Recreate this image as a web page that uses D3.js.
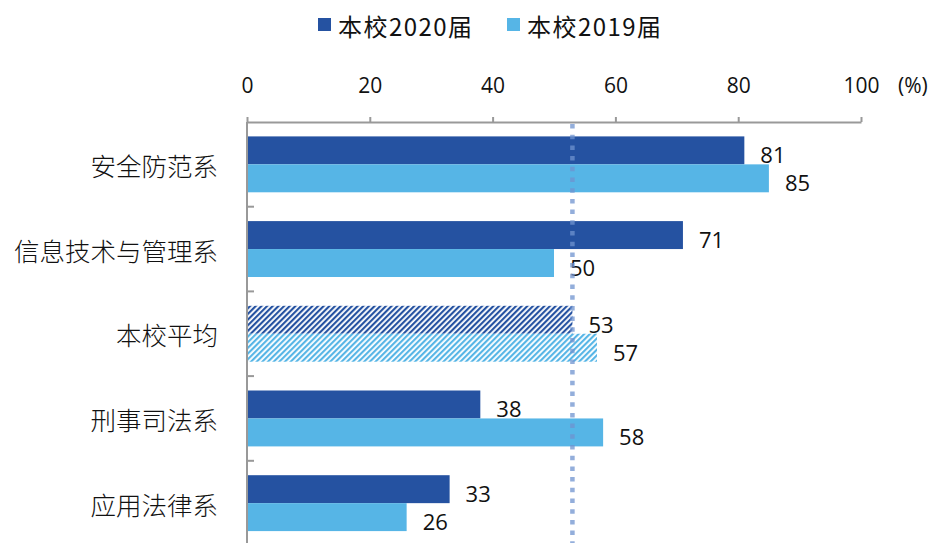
<!DOCTYPE html>
<html>
<head>
<meta charset="utf-8">
<script src="https://cdn.jsdelivr.net/npm/d3@7"></script>
<style>
  html, body { margin: 0; padding: 0; background: #fff; }
  svg { display: block; }
  .num { font-family: "Open Sans", "Noto Sans", sans-serif; fill: #111; }
  .cjk { font-family: "Noto Sans CJK SC", sans-serif; fill: #111; }
</style>
</head>
<body>
<svg id="chart" width="935" height="543"></svg>
<script>
// Categories (departments) and the share for each cohort, in percent
const categories = ["安全防范系", "信息技术与管理系", "本校平均", "刑事司法系", "应用法律系"];
const series2020 = [81, 71, 53, 38, 33];
const series2019 = [85, 50, 57, 58, 26];
const seriesNames = ["本校2020届", "本校2019届"];
const tickValues = [0, 20, 40, 60, 80, 100];
const averageCategory = "本校平均";

const colors = { "本校2020届": "#2552a1", "本校2019届": "#56b5e6" };
const hatchIds = { "本校2020届": "hatch2020", "本校2019届": "hatch2019" };

const svg = d3.select("#chart");
const W = 935, H = 543;
const plotLeft = 247, plotRight = 861, plotTop = 122;

const x = d3.scaleLinear().domain([0, 100]).range([plotLeft, plotRight]);
const y = d3.scaleBand().domain(categories)
  .range([plotTop, plotTop + 84.7 * categories.length])
  .paddingInner(0.34).paddingOuter(0.17);
const ySub = d3.scaleBand().domain(seriesNames).range([0, y.bandwidth()]);

// Diagonal hatch patterns for the school-average row
const defs = svg.append("defs");
seriesNames.forEach(name => {
  const p = defs.append("pattern")
    .attr("id", hatchIds[name])
    .attr("patternUnits", "userSpaceOnUse")
    .attr("width", 4).attr("height", 4)
    .attr("patternTransform", "rotate(45)");
  p.append("rect").attr("width", 4).attr("height", 4).attr("fill", "#fff");
  p.append("line").attr("x1", 1).attr("y1", 0).attr("x2", 1).attr("y2", 4)
    .attr("stroke", colors[name]).attr("stroke-width", 2.3);
});

// Legend
const legend = svg.append("g");
const legendX = [318, 507];
seriesNames.forEach((name, i) => {
  legend.append("rect").attr("x", legendX[i]).attr("y", 18)
    .attr("width", 13).attr("height", 13).attr("fill", colors[name]);
  legend.append("text").attr("class", "cjk")
    .attr("x", legendX[i] + 20).attr("y", 25)
    .attr("dominant-baseline", "central")
    .attr("font-size", 24)
    .attr("textLength", 134)
    .attr("lengthAdjust", "spacing")
    .text(name);
});

// Top value axis
const axisG = svg.append("g").attr("transform", `translate(0,${plotTop})`)
  .call(d3.axisTop(x).tickValues(tickValues).tickSize(5).tickPadding(24).tickSizeOuter(0));
axisG.select(".domain").attr("stroke", "#999").attr("stroke-width", 2);
axisG.selectAll(".tick line").attr("stroke", "#999").attr("stroke-width", 2);
axisG.selectAll(".tick text").attr("class", "num").attr("font-size", 21)
  .attr("fill", "#111");
svg.append("text").attr("class", "num")
  .attr("x", 898).attr("y", plotTop - 29)
  .attr("font-size", 21).text("(%)");

// Category axis (left), ticks at band boundaries pointing inward
svg.append("line").attr("x1", plotLeft).attr("x2", plotLeft)
  .attr("y1", plotTop).attr("y2", H + 10)
  .attr("stroke", "#999").attr("stroke-width", 2);
categories.forEach((c, i) => {
  const yb = plotTop + y.step() * (i + 1);
  svg.append("line").attr("x1", plotLeft).attr("x2", plotLeft + 7)
    .attr("y1", yb).attr("y2", yb)
    .attr("stroke", "#999").attr("stroke-width", 2);
});
svg.append("g").selectAll("text").data(categories).join("text")
  .attr("class", "cjk")
  .attr("x", 218)
  .attr("y", d => y(d) + y.bandwidth() / 2)
  .attr("text-anchor", "end")
  .attr("dominant-baseline", "central")
  .attr("font-size", 25.5)
  .attr("font-weight", 300)
  .text(d => d);

// Bars
const rows = categories.map((c, i) => ({
  category: c,
  values: [
    { name: seriesNames[0], value: series2020[i] },
    { name: seriesNames[1], value: series2019[i] }
  ]
}));

const groups = svg.append("g").selectAll("g").data(rows).join("g")
  .attr("transform", d => `translate(0,${y(d.category)})`);

groups.selectAll("rect").data(d => d.values.map(v => ({ ...v, category: d.category })))
  .join("rect")
  .attr("x", x(0) + 1)
  .attr("y", d => ySub(d.name))
  .attr("width", d => x(d.value) - x(0) - 1)
  .attr("height", ySub.bandwidth())
  .attr("fill", d => d.category === averageCategory ? `url(#${hatchIds[d.name]})` : colors[d.name]);

groups.selectAll("text").data(d => d.values).join("text")
  .attr("class", "num")
  .attr("x", d => x(d.value) + 16)
  .attr("y", d => ySub(d.name) + ySub.bandwidth() / 2 + 4)
  .attr("dominant-baseline", "central")
  .attr("font-size", 22)
  .text(d => d.value);

// Dotted reference line at the 2020 school average
const avg2020 = series2020[categories.indexOf(averageCategory)];
svg.append("line")
  .attr("x1", x(avg2020)).attr("x2", x(avg2020))
  .attr("y1", plotTop + 2).attr("y2", H)
  .attr("stroke", "#6f93cf").attr("stroke-opacity", 0.75)
  .attr("stroke-width", 4.5)
  .attr("stroke-dasharray", "4.5 6.2");
</script>
</body>
</html>
